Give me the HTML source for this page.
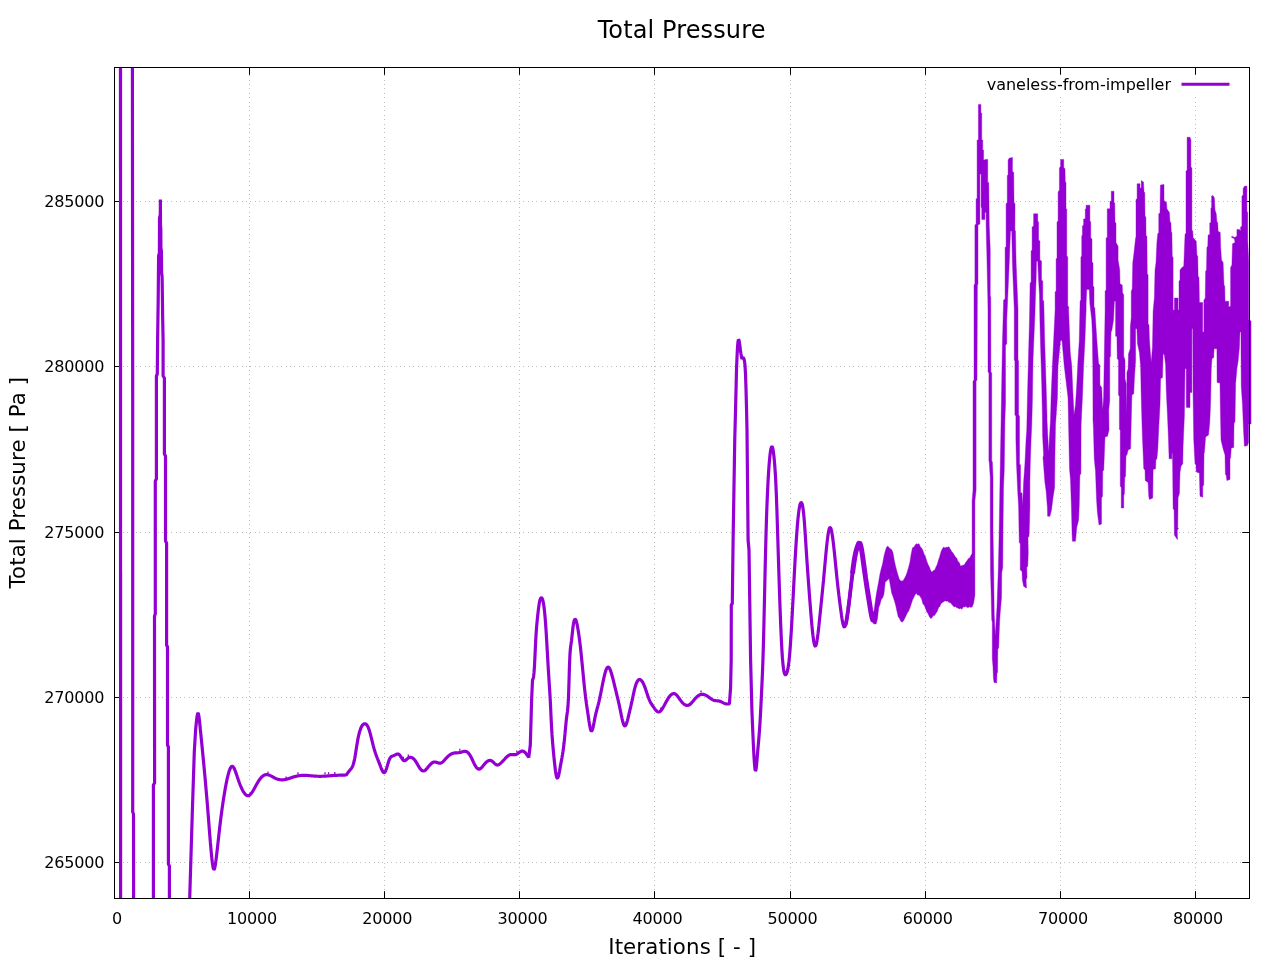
<!DOCTYPE html>
<html lang="en"><head><meta charset="utf-8"><title>Total Pressure</title>
<style>html,body{margin:0;padding:0;background:#fff;width:1280px;height:960px;overflow:hidden;}svg{display:block;will-change:transform;}text{font-family:"DejaVu Sans", "Liberation Sans", sans-serif;fill:#000;}</style></head><body>
<svg width="1280" height="960" viewBox="0 0 1280 960">
<rect x="0" y="0" width="1280" height="960" fill="#fff"/>
<path d="M249.5 899.0 V67.0 M384.5 899.0 V67.0 M519.5 899.0 V67.0 M654.5 899.0 V67.0 M790.5 899.0 V67.0 M925.5 899.0 V67.0 M1060.5 899.0 V67.0 M1195.5 899.0 V67.0 M114.0 862.5 H1250.0 M114.0 697.5 H1250.0 M114.0 532.5 H1250.0 M114.0 366.5 H1250.0 M114.0 201.5 H1250.0" stroke="#bebebe" stroke-width="1" stroke-dasharray="1 3 1 4 1 3 1 4 1 3" fill="none"/>
<rect x="981" y="73" width="259" height="22" fill="#fff"/>
<path d="M114.5 898.5 v-7.3 M114.5 67.5 v7.3 M249.5 898.5 v-7.3 M249.5 67.5 v7.3 M384.5 898.5 v-7.3 M384.5 67.5 v7.3 M519.5 898.5 v-7.3 M519.5 67.5 v7.3 M654.5 898.5 v-7.3 M654.5 67.5 v7.3 M790.5 898.5 v-7.3 M790.5 67.5 v7.3 M925.5 898.5 v-7.3 M925.5 67.5 v7.3 M1060.5 898.5 v-7.3 M1060.5 67.5 v7.3 M1195.5 898.5 v-7.3 M1195.5 67.5 v7.3 M114.5 862.5 h7.3 M1249.5 862.5 h-7.3 M114.5 697.5 h7.3 M1249.5 697.5 h-7.3 M114.5 532.5 h7.3 M1249.5 532.5 h-7.3 M114.5 366.5 h7.3 M1249.5 366.5 h-7.3 M114.5 201.5 h7.3 M1249.5 201.5 h-7.3" stroke="#000" stroke-width="1" fill="none"/>
<text x="117.0" y="924" font-size="16" letter-spacing="-0.18" text-anchor="middle">0</text>
<text x="252.1" y="924" font-size="16" letter-spacing="-0.18" text-anchor="middle">10000</text>
<text x="387.2" y="924" font-size="16" letter-spacing="-0.18" text-anchor="middle">20000</text>
<text x="522.4" y="924" font-size="16" letter-spacing="-0.18" text-anchor="middle">30000</text>
<text x="657.5" y="924" font-size="16" letter-spacing="-0.18" text-anchor="middle">40000</text>
<text x="792.6" y="924" font-size="16" letter-spacing="-0.18" text-anchor="middle">50000</text>
<text x="927.8" y="924" font-size="16" letter-spacing="-0.18" text-anchor="middle">60000</text>
<text x="1062.9" y="924" font-size="16" letter-spacing="-0.18" text-anchor="middle">70000</text>
<text x="1198.0" y="924" font-size="16" letter-spacing="-0.18" text-anchor="middle">80000</text>
<text x="104.2" y="868.0" font-size="16" letter-spacing="-0.18" text-anchor="end">265000</text>
<text x="104.2" y="702.8" font-size="16" letter-spacing="-0.18" text-anchor="end">270000</text>
<text x="104.2" y="537.5" font-size="16" letter-spacing="-0.18" text-anchor="end">275000</text>
<text x="104.2" y="372.2" font-size="16" letter-spacing="-0.18" text-anchor="end">280000</text>
<text x="104.2" y="207.0" font-size="16" letter-spacing="-0.18" text-anchor="end">285000</text>
<defs><clipPath id="c"><rect x="112.5" y="67.5" width="1139.0" height="831.0"/></clipPath></defs>
<g clip-path="url(#c)">
<path d="M120.50 60.00 L120.60 905.00" fill="none" stroke="#9400d3" stroke-width="3.2" stroke-linejoin="bevel" stroke-linecap="butt"/>
<path d="M132.40 60.00 L132.70 400.00 L132.70 812.00 L133.50 814.00 L133.60 905.00" fill="none" stroke="#9400d3" stroke-width="3.2" stroke-linejoin="bevel" stroke-linecap="butt"/>
<path d="M153.40 905.00 L153.40 785.00 L154.60 783.00 L154.50 616.00 L155.30 614.00 L155.30 481.00 L156.40 479.00 L156.40 376.00 L157.30 374.00 L157.60 340.00 L158.20 300.00 L158.60 256.00 L159.40 253.00 L159.50 218.00 L160.30 215.00 L160.40 199.50 L160.50 226.00 L160.80 229.00 L160.90 248.00 L161.40 251.00 L161.60 273.00 L162.10 277.00 L162.30 290.00 L162.70 320.00 L163.10 340.00 L163.10 376.00 L164.40 378.00 L164.40 454.00 L165.50 456.00 L165.50 541.00 L166.60 543.00 L166.60 645.00 L167.50 647.00 L167.50 745.00 L168.40 747.00 L168.40 864.00 L169.40 866.00 L169.40 905.00" fill="none" stroke="#9400d3" stroke-width="3.2" stroke-linejoin="bevel" stroke-linecap="butt"/>
<path d="M189.50 905.00 L192.30 812.50 L194.30 752.00 L195.60 730.00 L196.08 724.97 L196.56 720.34 L197.04 716.54 L197.52 713.95 L198.00 713.00 L198.48 713.95 L198.96 716.54 L199.44 720.34 L199.92 724.97 L200.40 730.00 L200.90 734.96 L201.40 739.94 L201.90 744.94 L202.40 749.98 L202.90 755.07 L203.40 760.23 L203.90 765.47 L204.40 770.78 L204.90 776.19 L205.39 781.71 L205.89 787.33 L206.39 793.08 L206.89 798.96 L207.39 804.98 L207.89 811.15 L208.39 817.47 L208.89 823.88 L209.39 830.29 L209.89 836.58 L210.39 842.67 L210.89 848.47 L211.39 853.86 L211.89 858.76 L212.39 862.97 L212.89 866.31 L213.39 868.55 L213.89 869.49 L214.39 869.00 L214.89 867.25 L215.38 864.49 L215.88 860.98 L216.38 856.98 L216.88 852.72 L217.38 848.33 L217.88 843.85 L218.38 839.33 L218.88 834.82 L219.38 830.37 L219.88 826.02 L220.38 821.83 L220.88 817.80 L221.38 813.92 L221.88 810.20 L222.38 806.62 L222.88 803.19 L223.38 799.88 L223.88 796.71 L224.38 793.65 L224.87 790.72 L225.37 787.89 L225.87 785.19 L226.37 782.61 L226.87 780.18 L227.37 777.90 L227.87 775.78 L228.37 773.84 L228.87 772.10 L229.37 770.55 L229.87 769.22 L230.37 768.11 L230.87 767.26 L231.37 766.66 L231.87 766.33 L232.37 766.29 L232.87 766.55 L233.37 767.08 L233.87 767.84 L234.37 768.82 L234.86 769.96 L235.36 771.24 L235.86 772.63 L236.36 774.09 L236.86 775.59 L237.36 777.09 L237.86 778.56 L238.36 780.00 L238.86 781.39 L239.36 782.74 L239.86 784.04 L240.36 785.29 L240.86 786.49 L241.36 787.63 L241.86 788.70 L242.36 789.72 L242.86 790.67 L243.36 791.55 L243.86 792.36 L244.35 793.09 L244.85 793.74 L245.35 794.31 L245.85 794.78 L246.35 795.17 L246.85 795.45 L247.35 795.64 L247.85 795.72 L248.35 795.69 L248.85 795.55 L249.35 795.29 L249.85 794.93 L250.35 794.48 L250.85 793.94 L251.35 793.32 L251.85 792.63 L252.35 791.88 L252.85 791.09 L253.35 790.25 L253.85 789.38 L254.34 788.48 L254.84 787.57 L255.34 786.65 L255.84 785.74 L256.34 784.83 L256.84 783.95 L257.34 783.09 L257.84 782.25 L258.34 781.45 L258.84 780.67 L259.34 779.93 L259.84 779.23 L260.34 778.57 L260.84 777.95 L261.34 777.38 L261.84 776.86 L262.34 776.39 L262.84 775.98 L263.34 775.63 L263.83 775.33 L264.33 775.08 L264.83 774.89 L265.33 774.74 L265.83 774.65 L266.33 774.60 L266.83 774.60 L267.33 774.64 L267.83 774.72 L268.33 774.84 L268.83 774.99 L269.33 775.17 L269.83 775.37 L270.33 775.60 L270.83 775.85 L271.33 776.11 L271.83 776.38 L272.33 776.66 L272.83 776.94 L273.32 777.22 L273.82 777.49 L274.32 777.76 L274.82 778.01 L275.32 778.25 L275.82 778.48 L276.32 778.68 L276.82 778.87 L277.32 779.04 L277.82 779.20 L278.32 779.34 L278.82 779.46 L279.32 779.56 L279.82 779.65 L280.32 779.72 L280.82 779.78 L281.32 779.81 L281.82 779.83 L282.32 779.84 L282.82 779.82 L283.31 779.79 L283.81 779.74 L284.31 779.68 L284.81 779.60 L285.31 779.50 L285.81 779.40 L286.31 779.28 L286.81 779.15 L287.31 779.01 L287.81 778.86 L288.31 778.71 L288.81 778.55 L289.31 778.38 L289.81 778.21 L290.31 778.04 L290.81 777.87 L291.31 777.70 L291.81 777.53 L292.31 777.36 L292.80 777.20 L293.30 777.04 L293.80 776.88 L294.30 776.74 L294.80 776.60 L295.30 776.47 L295.80 776.35 L296.30 776.23 L296.80 776.12 L297.30 776.02 L297.80 775.93 L298.30 775.84 L298.80 775.76 L299.30 775.69 L299.80 775.62 L300.30 775.57 L300.80 775.52 L301.30 775.47 L301.80 775.44 L302.30 775.41 L302.79 775.39 L303.29 775.37 L303.79 775.37 L304.29 775.37 L304.79 775.37 L305.29 775.38 L305.79 775.40 L306.29 775.42 L306.79 775.44 L307.29 775.47 L307.79 775.50 L308.29 775.54 L308.79 775.57 L309.29 775.61 L309.79 775.65 L310.29 775.70 L310.79 775.74 L311.29 775.79 L311.79 775.83 L312.28 775.88 L312.78 775.92 L313.28 775.97 L313.78 776.01 L314.28 776.05 L314.78 776.09 L315.28 776.13 L315.78 776.16 L316.28 776.19 L316.78 776.22 L317.28 776.24 L317.78 776.26 L318.28 776.27 L318.78 776.28 L319.28 776.29 L319.78 776.29 L320.28 776.29 L320.78 776.28 L321.28 776.28 L321.78 776.26 L322.27 776.25 L322.77 776.23 L323.27 776.21 L323.77 776.19 L324.27 776.16 L324.77 776.13 L325.27 776.11 L325.77 776.07 L326.27 776.04 L326.77 776.01 L327.27 775.97 L327.77 775.94 L328.27 775.90 L328.77 775.86 L329.27 775.82 L329.77 775.78 L330.27 775.74 L330.77 775.70 L331.27 775.67 L331.76 775.63 L332.26 775.59 L332.76 775.55 L333.26 775.52 L333.76 775.48 L334.26 775.45 L334.76 775.41 L335.26 775.38 L335.76 775.36 L336.26 775.33 L336.76 775.30 L337.26 775.28 L337.76 775.25 L338.26 775.23 L338.76 775.21 L339.26 775.19 L339.76 775.17 L340.26 775.16 L340.76 775.14 L341.26 775.13 L341.75 775.11 L342.25 775.10 L342.75 775.08 L343.25 775.07 L343.75 775.06 L344.25 775.05 L344.75 775.03 L345.25 775.02 L345.75 775.01 L346.25 775.00 L346.75 774.29 L347.25 773.58 L347.75 772.89 L348.25 772.21 L348.75 771.54 L349.25 770.90 L349.75 770.29 L350.25 769.71 L350.75 769.14 L351.25 768.52 L351.75 767.80 L352.25 766.92 L352.75 765.82 L353.25 764.46 L353.75 762.77 L354.25 760.70 L354.75 758.21 L355.25 755.35 L355.75 752.25 L356.25 749.03 L356.75 745.81 L357.25 742.71 L357.75 739.86 L358.25 737.31 L358.75 735.03 L359.25 733.02 L359.75 731.25 L360.25 729.71 L360.75 728.37 L361.25 727.22 L361.75 726.25 L362.25 725.45 L362.75 724.81 L363.25 724.33 L363.75 724.00 L364.25 723.81 L364.75 723.74 L365.25 723.81 L365.75 724.01 L366.25 724.37 L366.75 724.88 L367.25 725.56 L367.75 726.43 L368.25 727.49 L368.75 728.75 L369.25 730.22 L369.75 731.87 L370.25 733.66 L370.75 735.57 L371.25 737.56 L371.75 739.59 L372.25 741.63 L372.75 743.65 L373.25 745.62 L373.75 747.50 L374.25 749.26 L374.75 750.92 L375.25 752.47 L375.75 753.95 L376.25 755.35 L376.75 756.70 L377.25 758.01 L377.75 759.28 L378.25 760.54 L378.75 761.79 L379.25 763.06 L379.75 764.34 L380.25 765.67 L380.75 767.00 L381.25 768.31 L381.75 769.53 L382.25 770.63 L382.75 771.54 L383.25 772.21 L383.75 772.61 L384.25 772.67 L384.75 772.35 L385.25 771.62 L385.75 770.56 L386.25 769.22 L386.75 767.69 L387.25 766.04 L387.75 764.34 L388.25 762.68 L388.75 761.13 L389.25 759.76 L389.75 758.65 L390.25 757.79 L390.75 757.14 L391.25 756.67 L391.75 756.34 L392.25 756.10 L392.75 755.93 L393.25 755.77 L393.75 755.60 L394.25 755.38 L394.75 755.12 L395.25 754.85 L395.75 754.58 L396.25 754.34 L396.75 754.15 L397.25 754.02 L397.75 753.98 L398.25 754.05 L398.75 754.26 L399.25 754.61 L399.75 755.13 L400.25 755.80 L400.75 756.57 L401.25 757.39 L401.75 758.21 L402.25 758.99 L402.75 759.68 L403.25 760.23 L403.75 760.60 L404.25 760.75 L404.75 760.70 L405.25 760.50 L405.75 760.18 L406.25 759.76 L406.75 759.30 L407.25 758.83 L407.75 758.38 L408.25 757.99 L408.75 757.69 L409.25 757.46 L409.75 757.33 L410.25 757.27 L410.75 757.29 L411.25 757.39 L411.75 757.56 L412.25 757.81 L412.75 758.13 L413.25 758.52 L413.75 758.98 L414.25 759.50 L414.75 760.10 L415.25 760.75 L415.75 761.47 L416.25 762.25 L416.75 763.07 L417.25 763.91 L417.75 764.77 L418.25 765.62 L418.75 766.46 L419.25 767.27 L419.75 768.03 L420.25 768.73 L420.75 769.35 L421.25 769.90 L421.75 770.35 L422.25 770.69 L422.75 770.92 L423.25 771.01 L423.75 770.98 L424.25 770.82 L424.75 770.55 L425.25 770.19 L425.75 769.75 L426.25 769.25 L426.75 768.70 L427.25 768.11 L427.75 767.49 L428.25 766.87 L428.75 766.25 L429.25 765.65 L429.75 765.07 L430.25 764.53 L430.75 764.02 L431.25 763.55 L431.75 763.14 L432.25 762.78 L432.75 762.48 L433.25 762.25 L433.75 762.10 L434.25 762.02 L434.75 762.01 L435.25 762.06 L435.75 762.16 L436.25 762.29 L436.75 762.44 L437.25 762.60 L437.75 762.76 L438.25 762.91 L438.75 763.04 L439.25 763.13 L439.75 763.17 L440.25 763.15 L440.75 763.07 L441.25 762.90 L441.75 762.64 L442.25 762.30 L442.75 761.89 L443.25 761.43 L443.75 760.92 L444.25 760.37 L444.75 759.80 L445.25 759.23 L445.75 758.66 L446.25 758.10 L446.75 757.57 L447.25 757.06 L447.75 756.59 L448.25 756.14 L448.75 755.72 L449.25 755.33 L449.75 754.96 L450.25 754.63 L450.75 754.32 L451.25 754.04 L451.75 753.79 L452.25 753.58 L452.75 753.39 L453.25 753.23 L453.75 753.10 L454.25 753.00 L454.75 752.93 L455.25 752.88 L455.75 752.84 L456.25 752.81 L456.75 752.79 L457.25 752.78 L457.75 752.76 L458.25 752.73 L458.75 752.69 L459.25 752.63 L459.75 752.55 L460.25 752.44 L460.75 752.31 L461.25 752.16 L461.75 752.00 L462.25 751.85 L462.75 751.70 L463.25 751.56 L463.75 751.45 L464.25 751.37 L464.75 751.34 L465.25 751.35 L465.75 751.42 L466.25 751.56 L466.75 751.77 L467.25 752.07 L467.75 752.45 L468.25 752.93 L468.75 753.50 L469.25 754.15 L469.75 754.88 L470.25 755.68 L470.75 756.56 L471.25 757.50 L471.75 758.50 L472.25 759.54 L472.75 760.61 L473.25 761.69 L473.75 762.75 L474.25 763.78 L474.75 764.75 L475.25 765.66 L475.75 766.49 L476.25 767.21 L476.75 767.82 L477.25 768.33 L477.75 768.71 L478.25 768.98 L478.75 769.12 L479.25 769.12 L479.75 769.00 L480.25 768.75 L480.75 768.39 L481.25 767.94 L481.75 767.42 L482.25 766.85 L482.75 766.25 L483.25 765.62 L483.75 765.00 L484.25 764.39 L484.75 763.81 L485.25 763.25 L485.75 762.73 L486.25 762.25 L486.75 761.81 L487.25 761.42 L487.75 761.09 L488.25 760.81 L488.75 760.60 L489.25 760.46 L489.75 760.39 L490.25 760.40 L490.75 760.48 L491.25 760.65 L491.75 760.91 L492.25 761.25 L492.75 761.66 L493.25 762.13 L493.75 762.62 L494.25 763.12 L494.75 763.61 L495.25 764.06 L495.75 764.45 L496.25 764.76 L496.75 764.96 L497.25 765.04 L497.75 765.00 L498.25 764.85 L498.75 764.62 L499.25 764.31 L499.75 763.95 L500.25 763.54 L500.75 763.11 L501.25 762.65 L501.75 762.17 L502.25 761.67 L502.75 761.15 L503.25 760.63 L503.75 760.09 L504.25 759.56 L504.75 759.02 L505.25 758.48 L505.75 757.96 L506.25 757.45 L506.75 756.96 L507.25 756.50 L507.75 756.07 L508.25 755.69 L508.75 755.35 L509.25 755.06 L509.75 754.84 L510.25 754.68 L510.75 754.58 L511.25 754.54 L511.75 754.54 L512.25 754.56 L512.75 754.60 L513.25 754.65 L513.75 754.69 L514.25 754.72 L514.75 754.71 L515.25 754.66 L515.75 754.56 L516.25 754.40 L516.75 754.16 L517.25 753.87 L517.75 753.53 L518.25 753.16 L518.75 752.78 L519.25 752.41 L519.75 752.05 L520.25 751.73 L520.75 751.45 L521.25 751.25 L521.75 751.13 L522.25 751.09 L522.75 751.13 L523.25 751.26 L523.75 751.48 L524.25 751.79 L524.75 752.19 L525.25 752.67 L525.75 753.22 L526.25 753.84 L526.75 754.51 L527.25 755.22 L527.75 755.96 L528.25 756.73 L528.75 757.50 L530.30 745.00 L531.20 715.00 L531.60 700.00 L532.50 680.00 L533.00 679.04 L533.50 677.04 L534.00 672.96 L534.50 665.79 L535.00 655.52 L535.50 644.57 L536.00 635.34 L536.50 628.18 L537.00 622.45 L537.50 617.52 L538.00 612.91 L538.50 608.65 L539.00 604.95 L539.50 602.00 L540.00 599.91 L540.50 598.58 L541.00 597.92 L541.50 597.81 L542.00 598.22 L542.49 599.24 L542.99 600.95 L543.49 603.42 L543.99 606.73 L544.49 610.94 L544.99 616.12 L545.49 622.30 L545.99 629.51 L546.49 637.54 L546.99 646.10 L547.49 654.87 L547.99 663.56 L548.49 671.97 L548.99 679.87 L549.49 687.31 L549.99 695.27 L550.49 704.91 L550.99 715.80 L551.49 725.86 L551.99 734.16 L552.49 741.06 L552.99 746.99 L553.49 752.39 L553.99 757.58 L554.49 762.53 L554.99 767.06 L555.49 771.02 L555.99 774.26 L556.49 776.63 L556.99 777.95 L557.49 778.17 L557.99 777.43 L558.49 775.92 L558.99 773.80 L559.49 771.27 L559.99 768.49 L560.49 765.64 L560.99 762.89 L561.49 760.20 L561.99 757.47 L562.48 754.57 L562.98 751.41 L563.48 747.87 L563.98 743.82 L564.48 739.17 L564.98 733.93 L565.48 728.45 L565.98 723.11 L566.48 718.31 L566.98 714.44 L567.48 711.14 L567.98 706.25 L568.48 697.32 L568.98 682.13 L569.48 665.07 L569.98 654.00 L570.48 647.88 L570.98 644.27 L571.48 640.76 L571.98 636.35 L572.48 631.61 L572.98 627.20 L573.48 623.69 L573.98 621.25 L574.48 619.77 L574.98 619.18 L575.48 619.39 L575.98 620.30 L576.48 621.83 L576.98 623.89 L577.48 626.39 L577.98 629.25 L578.48 632.38 L578.98 635.77 L579.48 639.43 L579.98 643.39 L580.48 647.64 L580.98 652.21 L581.48 657.05 L581.97 662.09 L582.47 667.24 L582.97 672.44 L583.47 677.62 L583.97 682.68 L584.47 687.56 L584.97 692.17 L585.47 696.43 L585.97 700.34 L586.47 703.98 L586.97 707.43 L587.47 710.78 L587.97 714.13 L588.47 717.55 L588.97 720.93 L589.47 724.11 L589.97 726.90 L590.47 729.12 L590.97 730.58 L591.47 731.11 L591.97 730.69 L592.47 729.48 L592.97 727.66 L593.47 725.39 L593.97 722.85 L594.47 720.22 L594.97 717.66 L595.47 715.31 L595.97 713.17 L596.47 711.18 L596.97 709.29 L597.47 707.44 L597.97 705.58 L598.47 703.65 L598.97 701.59 L599.47 699.40 L599.97 697.09 L600.47 694.69 L600.97 692.22 L601.46 689.71 L601.96 687.19 L602.46 684.67 L602.96 682.20 L603.46 679.80 L603.96 677.52 L604.46 675.38 L604.96 673.42 L605.46 671.68 L605.96 670.20 L606.46 668.99 L606.96 668.06 L607.46 667.45 L607.96 667.15 L608.46 667.18 L608.96 667.56 L609.46 668.26 L609.96 669.23 L610.46 670.46 L610.96 671.88 L611.46 673.48 L611.96 675.21 L612.46 677.05 L612.96 678.96 L613.46 680.94 L613.96 682.97 L614.46 685.02 L614.96 687.09 L615.46 689.15 L615.96 691.20 L616.46 693.25 L616.96 695.30 L617.46 697.38 L617.96 699.50 L618.46 701.66 L618.96 703.88 L619.46 706.16 L619.96 708.53 L620.46 710.99 L620.96 713.47 L621.45 715.92 L621.95 718.25 L622.45 720.41 L622.95 722.31 L623.45 723.90 L623.95 725.09 L624.45 725.81 L624.95 726.01 L625.45 725.67 L625.95 724.86 L626.45 723.64 L626.95 722.10 L627.45 720.31 L627.95 718.34 L628.45 716.26 L628.95 714.15 L629.45 712.04 L629.95 709.92 L630.45 707.79 L630.95 705.62 L631.45 703.41 L631.95 701.16 L632.45 698.83 L632.95 696.47 L633.45 694.12 L633.95 691.84 L634.45 689.68 L634.95 687.69 L635.45 685.94 L635.95 684.41 L636.45 683.10 L636.95 682.01 L637.45 681.13 L637.95 680.45 L638.45 679.95 L638.95 679.64 L639.45 679.51 L639.95 679.54 L640.45 679.72 L640.94 680.06 L641.44 680.54 L641.94 681.16 L642.44 681.91 L642.94 682.78 L643.44 683.76 L643.94 684.86 L644.44 686.06 L644.94 687.35 L645.44 688.72 L645.94 690.17 L646.44 691.65 L646.94 693.16 L647.44 694.65 L647.94 696.12 L648.44 697.53 L648.94 698.86 L649.44 700.10 L649.94 701.21 L650.44 702.21 L650.94 703.13 L651.44 703.97 L651.94 704.75 L652.44 705.49 L652.94 706.21 L653.44 706.91 L653.94 707.62 L654.44 708.33 L654.94 709.01 L655.44 709.67 L655.94 710.27 L656.44 710.80 L656.94 711.26 L657.44 711.62 L657.94 711.87 L658.44 711.99 L658.94 711.98 L659.44 711.81 L659.94 711.52 L660.44 711.10 L660.93 710.58 L661.43 709.96 L661.93 709.26 L662.43 708.50 L662.93 707.68 L663.43 706.81 L663.93 705.92 L664.43 705.01 L664.93 704.09 L665.43 703.16 L665.93 702.24 L666.43 701.33 L666.93 700.45 L667.43 699.59 L667.93 698.76 L668.43 697.97 L668.93 697.24 L669.43 696.56 L669.93 695.94 L670.43 695.39 L670.93 694.90 L671.43 694.48 L671.93 694.14 L672.43 693.88 L672.93 693.70 L673.43 693.60 L673.93 693.59 L674.43 693.68 L674.93 693.87 L675.43 694.15 L675.93 694.52 L676.43 694.98 L676.93 695.50 L677.43 696.08 L677.93 696.71 L678.43 697.37 L678.93 698.06 L679.43 698.76 L679.93 699.46 L680.42 700.16 L680.92 700.83 L681.42 701.47 L681.92 702.07 L682.42 702.63 L682.92 703.14 L683.42 703.61 L683.92 704.03 L684.42 704.39 L684.92 704.71 L685.42 704.96 L685.92 705.16 L686.42 705.30 L686.92 705.38 L687.42 705.39 L687.92 705.33 L688.42 705.21 L688.92 705.01 L689.42 704.74 L689.92 704.39 L690.42 703.98 L690.92 703.51 L691.42 703.00 L691.92 702.44 L692.42 701.86 L692.92 701.26 L693.42 700.65 L693.92 700.03 L694.42 699.43 L694.92 698.84 L695.42 698.29 L695.92 697.76 L696.42 697.26 L696.92 696.80 L697.42 696.37 L697.92 695.98 L698.42 695.63 L698.92 695.31 L699.42 695.04 L699.91 694.80 L700.41 694.62 L700.91 694.47 L701.41 694.37 L701.91 694.32 L702.41 694.31 L702.91 694.35 L703.41 694.42 L703.91 694.53 L704.41 694.68 L704.91 694.86 L705.41 695.07 L705.91 695.32 L706.41 695.58 L706.91 695.88 L707.41 696.19 L707.91 696.53 L708.41 696.88 L708.91 697.24 L709.41 697.61 L709.91 697.97 L710.41 698.34 L710.91 698.69 L711.41 699.02 L711.91 699.34 L712.41 699.63 L712.91 699.89 L713.41 700.12 L713.91 700.30 L714.41 700.45 L714.91 700.55 L715.41 700.63 L715.91 700.69 L716.41 700.74 L716.91 700.77 L717.41 700.81 L717.91 700.85 L718.41 700.91 L718.91 700.98 L719.41 701.08 L719.90 701.22 L720.40 701.40 L720.90 701.61 L721.40 701.84 L721.90 702.10 L722.40 702.37 L722.90 702.64 L723.40 702.90 L723.90 703.15 L724.40 703.37 L724.90 703.57 L725.40 703.72 L725.90 703.84 L726.40 703.92 L726.90 703.98 L727.40 704.01 L727.90 704.02 L728.40 704.02 L728.90 704.01 L729.40 704.00 L730.60 687.50 L731.20 660.00 L731.30 605.00 L732.30 603.50 L733.10 540.00 L734.75 440.00 L735.60 407.50 L736.50 370.00 L736.99 357.77 L737.48 347.80 L737.97 341.88 L738.46 339.66 L738.95 340.20 L739.45 342.61 L739.94 346.12 L740.43 349.96 L740.92 353.42 L741.41 356.34 L741.90 359.00 L742.41 358.25 L742.92 357.78 L743.43 357.88 L743.94 358.82 L744.46 360.89 L744.97 364.91 L745.48 373.30 L745.99 388.22 L746.50 407.50 L747.00 430.00 L748.10 540.00 L749.00 550.00 L750.60 660.00 L751.90 710.00 L752.40 722.44 L752.90 734.41 L753.40 745.47 L753.90 755.13 L754.40 762.92 L754.90 768.34 L755.40 770.89 L755.90 770.14 L756.40 766.51 L756.90 761.07 L757.40 754.92 L757.90 749.01 L758.41 743.35 L758.91 737.57 L759.41 731.24 L759.91 723.99 L760.41 715.48 L760.91 705.86 L761.41 695.52 L761.91 684.83 L762.41 673.76 L762.91 660.82 L763.41 644.29 L763.91 624.27 L764.41 602.19 L764.91 579.52 L765.41 557.71 L765.91 538.17 L766.41 521.30 L766.91 506.84 L767.41 494.47 L767.91 483.91 L768.41 474.94 L768.91 467.39 L769.41 461.09 L769.91 455.88 L770.41 451.78 L770.92 448.83 L771.42 447.06 L771.92 446.50 L772.42 447.19 L772.92 449.08 L773.42 452.12 L773.92 456.26 L774.42 461.46 L774.92 467.74 L775.42 475.44 L775.92 484.99 L776.42 496.77 L776.92 510.76 L777.42 526.23 L777.92 542.43 L778.42 558.63 L778.92 574.49 L779.42 589.79 L779.92 604.31 L780.42 617.85 L780.92 630.19 L781.42 641.11 L781.92 650.41 L782.42 657.95 L782.93 663.84 L783.43 668.27 L783.93 671.41 L784.43 673.43 L784.93 674.51 L785.43 674.84 L785.93 674.58 L786.43 673.88 L786.93 672.72 L787.43 671.01 L787.93 668.66 L788.43 665.58 L788.93 661.67 L789.43 656.86 L789.93 651.05 L790.43 644.29 L790.93 636.73 L791.43 628.48 L791.93 619.70 L792.43 610.50 L792.93 601.02 L793.43 591.40 L793.93 581.76 L794.43 572.25 L794.93 563.00 L795.44 554.14 L795.94 545.80 L796.44 538.08 L796.94 531.04 L797.44 524.72 L797.94 519.14 L798.44 514.36 L798.94 510.39 L799.44 507.22 L799.94 504.86 L800.44 503.30 L800.94 502.54 L801.44 502.58 L801.94 503.48 L802.44 505.29 L802.94 508.08 L803.44 511.91 L803.94 516.85 L804.44 522.92 L804.94 529.88 L805.44 537.42 L805.94 545.23 L806.44 552.99 L806.94 560.52 L807.44 567.83 L807.95 574.95 L808.45 581.89 L808.95 588.66 L809.45 595.30 L809.95 601.82 L810.45 608.22 L810.95 614.43 L811.45 620.36 L811.95 625.92 L812.45 631.01 L812.95 635.52 L813.45 639.37 L813.95 642.46 L814.45 644.70 L814.95 645.98 L815.45 646.21 L815.95 645.40 L816.45 643.65 L816.95 641.09 L817.45 637.84 L817.95 634.02 L818.45 629.74 L818.95 625.14 L819.45 620.33 L819.96 615.44 L820.46 610.56 L820.96 605.71 L821.46 600.84 L821.96 595.93 L822.46 590.94 L822.96 585.85 L823.46 580.63 L823.96 575.23 L824.46 569.71 L824.96 564.13 L825.46 558.62 L825.96 553.26 L826.46 548.15 L826.96 543.40 L827.46 539.10 L827.96 535.35 L828.46 532.24 L828.96 529.85 L829.46 528.25 L829.96 527.52 L830.46 527.71 L830.96 528.78 L831.46 530.64 L831.96 533.18 L832.47 536.34 L832.97 540.01 L833.47 544.11 L833.97 548.56 L834.47 553.28 L834.97 558.20 L835.47 563.22 L835.97 568.28 L836.47 573.28 L836.97 578.16 L837.47 582.85 L837.97 587.36 L838.47 591.70 L838.97 595.90 L839.47 599.97 L839.97 603.92 L840.47 607.78 L840.97 611.54 L841.47 615.14 L841.97 618.47 L842.47 621.41 L842.97 623.85 L843.47 625.68 L843.97 626.77 L844.47 627.04 L844.98 626.46 L845.48 625.14 L845.98 623.17 L846.48 620.64 L846.98 617.66 L847.48 614.31 L847.98 610.69 L848.48 606.87 L848.98 602.89 L849.48 598.79 L849.98 594.59 L850.48 590.33 L850.98 586.05 L851.48 581.79 L851.98 577.58 L852.48 573.47 L852.98 569.50 L853.48 565.74 L853.98 562.23 L854.48 559.00 L854.98 556.13 L855.48 553.64 L855.98 551.51 L856.48 549.68 L856.99 548.05 L857.49 546.54 L857.99 545.13 L858.49 543.93 L858.99 543.14 L859.49 542.92 L859.99 543.46 L860.49 544.79 L860.99 546.80 L861.49 549.37 L861.99 552.37 L862.49 555.69 L862.99 559.21 L863.49 562.81 L863.99 566.45 L864.49 570.08 L864.99 573.69 L865.49 577.26 L865.99 580.74 L866.49 584.13 L866.99 587.41 L867.49 590.61 L867.99 593.76 L868.49 596.87 L868.99 599.97 L869.50 603.10 L870.00 606.23 L870.50 609.31 L871.00 612.25 L871.50 614.98 L872.00 617.40 L872.50 619.27 L873.00 620.36 L873.50 620.42 L874.00 619.34 L874.50 617.39 L875.00 614.84 L875.50 612.00" fill="none" stroke="#9400d3" stroke-width="3.2" stroke-linejoin="bevel" stroke-linecap="butt"/>
<path d="M268.0 773.4 v-2 M286.0 778.4 v-2 M298.0 774.3 v-2 M325.0 774.3 v-2 M328.6 774.2 v-2 M334.8 773.9 v-2 M403.4 758.8 v-2 M408.3 756.4 v-2 M459.8 750.8 v-2 M516.8 752.6 v-2 M701.0 692.6 v-2 M660.8 709.5 v-2" fill="none" stroke="#9400d3" stroke-width="1.3"/>
<path d="M845.48 625.14 L845.98 623.17 L846.48 620.64 L846.98 617.66 L847.48 614.31 L847.98 610.69 L848.48 606.87 L848.98 602.89 L849.48 598.79 L849.98 594.59 L850.48 590.33 L850.98 586.05 L851.48 581.79 L851.98 577.58 L852.48 573.47 L852.98 569.50" fill="none" stroke="#9400d3" stroke-width="3.8" stroke-linejoin="bevel" stroke-linecap="butt"/>
<path d="M852.48 573.47 L852.98 569.50 L853.48 565.74 L853.98 562.23 L854.48 559.00 L854.98 556.13 L855.48 553.64 L855.98 551.51 L856.48 549.68 L856.99 548.05 L857.49 546.54 L857.99 545.13 L858.49 543.93 L858.99 543.14 L859.49 542.92 L859.99 543.46 L860.49 544.79 L860.99 546.80 L861.49 549.37 L861.99 552.37 L862.49 555.69 L862.99 559.21 L863.49 562.81 L863.99 566.45 L864.49 570.08 L864.99 573.69 L865.49 577.26 L865.99 580.74 L866.49 584.13 L866.99 587.41 L867.49 590.61 L867.99 593.76 L868.49 596.87 L868.99 599.97 L869.50 603.10 L870.00 606.23 L870.50 609.31 L871.00 612.25 L871.50 614.98 L872.00 617.40 L872.50 619.27 L873.00 620.36 L873.50 620.42 L874.00 619.34 L874.50 617.39 L875.00 614.84 L875.50 612.00" fill="none" stroke="#9400d3" stroke-width="5" stroke-linejoin="bevel" stroke-linecap="butt"/>
<path d="M873.50 614.22 L874.80 605.15 L876.10 595.80 L877.40 588.36 L878.70 581.51 L880.00 573.77 L881.30 568.46 L882.60 563.78 L883.90 556.60 L885.20 551.20 L886.50 547.17 L887.80 546.06 L889.10 547.63 L890.40 548.72 L891.70 549.81 L893.00 552.74 L894.30 560.58 L895.60 566.35 L896.90 571.29 L898.20 575.65 L899.50 579.79 L900.80 580.71 L902.10 581.13 L903.40 580.17 L904.70 578.08 L906.00 575.48 L907.30 571.81 L908.60 567.30 L909.90 562.21 L911.20 553.92 L912.50 547.65 L913.80 547.26 L915.10 545.17 L916.40 543.68 L917.70 544.17 L919.00 543.64 L920.30 546.63 L921.60 548.07 L922.90 550.43 L924.20 554.31 L925.50 556.99 L926.80 561.23 L928.10 564.56 L929.40 567.05 L930.70 570.59 L932.00 572.35 L933.30 570.44 L934.60 570.32 L935.90 567.15 L937.20 564.45 L938.50 559.94 L939.80 556.27 L941.10 551.47 L942.40 548.69 L943.70 547.05 L945.00 548.01 L946.30 547.22 L947.60 547.31 L948.90 546.66 L950.20 548.90 L951.50 551.35 L952.80 552.64 L954.10 554.86 L955.40 556.97 L956.70 557.99 L958.00 561.41 L959.30 562.51 L960.60 566.27 L961.90 565.44 L963.20 565.25 L964.50 564.42 L965.80 562.15 L967.10 560.56 L968.40 558.60 L969.70 558.03 L971.00 555.34 L971.90 553.75 L972.10 553.00 L972.10 501.00 L973.00 490.00 L973.00 381.00 L974.00 380.00 L974.00 285.00 L974.90 284.00 L974.90 225.00 L976.10 224.00 L976.10 198.75 L977.10 198.75 L977.10 140.00 L978.40 140.00 L978.40 104.40 L980.90 104.40 L980.90 113.00 L981.75 113.00 L981.75 140.00 L982.75 140.00 L982.75 150.00 L983.60 150.00 L983.60 160.00 L984.90 160.00 L984.90 159.40 L987.75 159.40 L987.75 182.50 L988.75 182.50 L989.25 225.00 L990.25 250.00 L990.25 296.00 L990.75 297.00 L990.90 372.00 L991.75 373.00 L991.75 461.00 L992.40 462.00 L993.00 477.50 L993.00 530.00 L993.60 567.50 L994.25 615.00 L995.25 636.00 L997.00 607.00 L998.30 570.00 L999.00 540.00 L999.90 487.00 L1001.10 420.00 L1002.40 345.00 L1003.60 300.00 L1005.10 299.00 L1005.10 247.50 L1006.10 246.50 L1006.10 203.75 L1007.25 202.50 L1007.25 175.60 L1008.10 175.00 L1008.10 160.00 L1009.40 158.00 L1012.50 157.50 L1012.40 171.25 L1013.75 172.50 L1014.00 202.50 L1015.00 203.75 L1014.90 230.00 L1015.50 231.00 L1016.10 262.50 L1018.00 309.00 L1018.00 360.00 L1018.60 361.00 L1018.60 415.00 L1019.50 416.00 L1019.50 464.00 L1020.50 465.00 L1020.50 492.50 L1022.00 493.00 L1022.60 506.25 L1023.60 482.50 L1024.90 464.00 L1026.10 439.00 L1026.75 430.00 L1027.40 400.00 L1028.40 360.00 L1029.50 320.00 L1030.10 283.00 L1031.10 282.00 L1031.10 251.00 L1032.10 250.00 L1032.10 227.00 L1033.60 226.00 L1033.60 213.75 L1037.75 213.75 L1037.75 221.25 L1038.60 222.00 L1038.60 240.00 L1039.90 241.00 L1039.90 260.00 L1041.50 261.00 L1041.50 280.00 L1042.75 281.00 L1042.75 300.00 L1043.75 301.00 L1044.00 310.00 L1044.50 335.00 L1046.10 385.00 L1047.00 416.00 L1047.00 420.00 L1048.60 452.50 L1050.50 420.00 L1051.10 397.50 L1052.40 366.00 L1055.10 310.00 L1055.10 292.00 L1056.10 291.00 L1056.10 259.00 L1057.00 258.00 L1057.00 222.00 L1058.10 221.00 L1058.10 192.00 L1059.40 190.00 L1059.40 168.00 L1060.60 166.25 L1060.60 159.40 L1063.75 159.40 L1063.75 167.50 L1065.00 168.75 L1065.25 182.00 L1066.00 182.50 L1066.00 208.75 L1066.75 209.00 L1066.75 256.00 L1067.75 257.00 L1067.75 306.00 L1068.75 307.00 L1068.60 310.00 L1070.25 352.50 L1071.75 366.00 L1072.75 390.00 L1074.00 415.00 L1075.50 405.00 L1076.75 385.00 L1078.00 360.00 L1079.25 341.00 L1079.90 310.00 L1080.10 301.00 L1080.90 300.00 L1080.90 257.00 L1081.75 256.00 L1081.75 236.00 L1082.40 235.00 L1082.40 226.00 L1083.60 225.00 L1083.60 219.00 L1085.25 218.75 L1085.25 209.00 L1086.10 208.75 L1086.10 205.25 L1089.90 205.25 L1089.90 221.00 L1090.75 222.00 L1090.75 238.00 L1092.00 239.00 L1092.00 262.00 L1093.00 263.00 L1093.00 286.00 L1094.00 287.00 L1094.00 307.00 L1094.90 308.00 L1094.90 310.00 L1096.75 338.75 L1098.60 363.75 L1099.90 365.00 L1099.90 385.00 L1101.75 387.50 L1102.40 405.00 L1102.75 410.00 L1103.60 397.50 L1104.25 360.00 L1105.10 310.00 L1105.10 291.00 L1106.10 290.00 L1106.10 238.00 L1107.25 237.50 L1107.25 208.75 L1110.00 208.75 L1110.00 201.25 L1111.25 201.25 L1111.25 191.25 L1114.00 191.25 L1114.00 202.50 L1114.75 203.00 L1115.00 222.50 L1116.00 223.00 L1116.00 242.50 L1118.10 246.25 L1118.10 260.00 L1119.75 270.00 L1120.00 283.75 L1122.25 285.00 L1122.50 292.50 L1123.75 295.00 L1123.75 356.25 L1125.00 360.00 L1125.00 378.75 L1126.25 383.75 L1126.25 415.00 L1126.90 392.50 L1126.90 372.50 L1128.10 368.75 L1128.50 353.75 L1130.20 348.75 L1130.40 326.25 L1131.25 317.50 L1131.25 291.25 L1132.25 288.75 L1132.75 262.50 L1133.75 255.00 L1135.60 238.00 L1136.00 237.00 L1136.00 199.40 L1137.10 198.75 L1137.10 183.75 L1140.00 183.75 L1140.00 188.00 L1141.25 188.00 L1141.25 180.60 L1143.50 182.00 L1144.00 192.00 L1144.75 192.50 L1145.00 216.25 L1145.90 217.00 L1146.00 235.60 L1146.90 236.25 L1147.25 273.75 L1148.10 275.00 L1148.10 323.75 L1149.00 325.00 L1149.40 338.75 L1150.30 352.00 L1151.25 362.50 L1152.50 346.25 L1153.10 311.25 L1154.40 297.50 L1155.00 270.00 L1156.00 262.50 L1156.90 242.50 L1157.75 233.75 L1158.75 232.50 L1158.75 213.75 L1160.00 213.00 L1160.40 185.00 L1164.00 184.40 L1164.00 200.60 L1166.50 202.50 L1166.90 208.75 L1169.40 212.50 L1170.00 221.90 L1170.90 222.50 L1171.25 231.90 L1171.90 232.50 L1172.25 256.25 L1173.10 257.50 L1173.10 310.00 L1174.40 310.00 L1174.40 298.00 L1178.10 298.00 L1178.10 310.00 L1179.00 310.00 L1179.00 281.25 L1180.00 280.00 L1180.00 270.00 L1181.90 267.50 L1183.75 266.25 L1185.00 235.00 L1185.00 234.40 L1186.00 233.00 L1186.00 171.25 L1187.10 170.00 L1187.10 137.25 L1190.00 137.25 L1190.90 140.00 L1190.90 166.90 L1191.90 168.00 L1191.90 230.00 L1192.75 231.25 L1193.10 237.50 L1196.25 241.25 L1196.90 255.00 L1197.75 256.25 L1198.10 276.25 L1199.00 277.50 L1199.40 302.50 L1202.70 302.50 L1202.70 332.00 L1203.90 332.00 L1203.90 300.00 L1204.40 299.40 L1205.25 298.00 L1205.60 271.25 L1206.50 270.00 L1206.90 247.50 L1207.75 246.25 L1208.10 235.00 L1209.75 234.40 L1209.75 223.00 L1210.90 222.50 L1210.90 208.00 L1211.60 207.50 L1211.60 196.00 L1213.00 195.60 L1214.40 198.00 L1215.00 210.00 L1216.25 213.75 L1216.90 222.00 L1217.75 222.50 L1218.10 231.25 L1220.25 232.50 L1220.60 246.25 L1221.50 260.00 L1223.10 262.50 L1224.00 285.00 L1224.75 286.25 L1225.00 301.25 L1228.75 301.25 L1228.75 307.00 L1230.60 306.25 L1230.60 267.50 L1231.90 265.00 L1232.50 243.75 L1235.00 242.50 L1234.40 238.75 L1231.90 237.50 L1231.25 236.90 L1232.50 236.25 L1234.40 237.50 L1236.90 236.25 L1236.90 229.40 L1239.40 229.40 L1240.60 231.25 L1240.60 226.90 L1241.90 226.25 L1241.90 196.25 L1243.10 195.00 L1243.10 188.75 L1244.40 186.25 L1246.90 186.00 L1246.90 211.25 L1247.75 212.50 L1247.75 240.00 L1248.75 262.50 L1248.75 320.00 L1251.25 321.00 L1251.25 424.00 L1251.25 424.00 L1248.75 424.00 L1248.50 442.50 L1247.50 445.60 L1244.40 446.25 L1243.50 430.00 L1242.50 405.00 L1241.25 386.25 L1241.00 352.50 L1241.00 331.90 L1240.00 331.90 L1239.40 347.50 L1238.10 361.25 L1236.90 368.75 L1235.60 383.75 L1235.00 421.25 L1234.00 423.75 L1233.75 447.50 L1231.25 448.00 L1230.60 458.00 L1230.00 458.75 L1230.00 479.40 L1226.90 480.60 L1226.25 475.60 L1225.40 474.40 L1225.00 455.00 L1223.10 448.75 L1221.00 440.00 L1220.25 402.50 L1220.00 383.00 L1217.10 382.50 L1216.90 348.75 L1214.00 348.75 L1213.75 357.50 L1211.90 358.75 L1211.25 370.00 L1210.60 402.50 L1209.75 422.50 L1208.50 435.00 L1205.60 436.90 L1204.40 452.50 L1204.00 453.75 L1203.75 485.00 L1202.75 486.25 L1202.75 497.25 L1200.00 496.25 L1199.40 473.10 L1196.25 471.90 L1196.00 465.00 L1195.00 463.75 L1193.75 440.00 L1193.10 396.25 L1192.75 328.75 L1191.90 328.75 L1191.90 392.50 L1190.00 392.50 L1190.00 407.50 L1186.50 407.50 L1186.25 405.00 L1186.25 368.75 L1185.00 368.75 L1184.40 415.00 L1183.10 446.25 L1182.75 463.75 L1181.00 466.25 L1180.00 472.50 L1179.40 493.75 L1178.10 497.50 L1177.75 527.50 L1178.50 528.75 L1177.25 530.00 L1177.50 539.40 L1177.25 539.40 L1174.40 535.00 L1174.10 510.00 L1173.10 508.75 L1172.50 453.75 L1171.90 453.00 L1171.90 458.75 L1169.10 458.75 L1168.50 440.00 L1167.50 416.25 L1166.25 390.00 L1165.60 365.00 L1164.40 355.00 L1163.10 353.75 L1162.50 377.50 L1160.60 378.75 L1160.00 405.00 L1158.75 427.50 L1157.75 450.00 L1156.90 458.75 L1155.90 460.00 L1155.60 468.75 L1153.10 469.40 L1152.75 498.00 L1149.40 499.40 L1148.75 496.25 L1148.10 482.50 L1145.25 480.60 L1145.00 470.00 L1143.75 468.75 L1143.10 452.50 L1142.25 432.50 L1141.25 397.50 L1140.60 366.25 L1139.40 352.50 L1137.50 343.75 L1136.90 328.75 L1135.60 328.75 L1135.60 360.00 L1134.40 378.75 L1133.75 393.75 L1131.90 395.00 L1131.25 420.00 L1130.60 448.75 L1128.10 450.00 L1126.90 455.00 L1126.00 455.60 L1125.60 476.25 L1124.75 477.50 L1124.40 493.75 L1123.75 495.60 L1123.75 508.00 L1121.25 508.00 L1121.25 487.50 L1120.25 486.25 L1120.25 430.00 L1119.40 429.40 L1119.40 396.25 L1118.50 395.00 L1118.50 360.00 L1117.25 358.75 L1116.90 336.25 L1115.60 336.25 L1115.60 301.25 L1114.40 301.25 L1113.50 320.00 L1111.90 330.00 L1111.00 332.50 L1110.60 350.00 L1110.60 356.25 L1109.75 357.50 L1109.75 400.00 L1108.75 410.00 L1109.00 430.00 L1107.50 436.25 L1105.00 436.90 L1104.40 452.50 L1103.75 470.00 L1102.75 471.25 L1102.50 496.25 L1101.50 498.00 L1101.50 524.00 L1099.00 525.00 L1097.40 512.50 L1096.50 498.75 L1095.50 471.25 L1094.25 458.75 L1093.40 427.50 L1093.00 420.00 L1092.80 366.00 L1092.40 335.00 L1091.75 320.00 L1089.90 303.75 L1089.25 289.40 L1086.75 289.40 L1086.10 303.75 L1086.10 310.00 L1084.90 341.00 L1083.60 366.00 L1082.40 397.50 L1081.10 425.00 L1080.90 473.75 L1079.90 475.00 L1079.25 505.00 L1078.60 520.00 L1076.75 527.50 L1076.10 535.00 L1075.50 541.25 L1072.40 541.25 L1072.10 535.00 L1071.50 510.00 L1070.50 480.00 L1069.50 468.75 L1068.60 425.00 L1068.00 397.50 L1064.25 366.00 L1062.00 340.60 L1060.50 340.60 L1058.00 366.00 L1057.40 397.50 L1055.50 425.00 L1054.90 457.50 L1054.60 487.50 L1053.00 497.50 L1051.50 510.00 L1049.90 516.25 L1047.60 516.25 L1047.40 507.50 L1046.10 491.00 L1044.90 482.50 L1043.00 457.50 L1043.60 455.00 L1042.60 436.00 L1042.40 416.00 L1041.75 385.00 L1040.25 335.00 L1039.90 320.00 L1039.50 295.00 L1038.60 280.00 L1037.75 261.25 L1036.50 261.25 L1036.10 280.00 L1035.50 295.00 L1034.90 315.00 L1033.00 360.00 L1032.40 400.00 L1031.75 425.00 L1031.10 439.00 L1030.25 464.00 L1029.90 482.50 L1029.90 507.00 L1029.25 530.00 L1029.00 536.25 L1028.00 537.50 L1028.25 552.50 L1027.75 566.25 L1026.75 567.50 L1027.00 577.50 L1026.10 580.00 L1026.50 588.00 L1026.10 588.00 L1023.60 586.25 L1022.40 580.00 L1022.00 571.25 L1020.25 570.00 L1020.25 543.75 L1019.25 542.50 L1019.00 530.00 L1018.60 506.00 L1017.75 492.50 L1016.50 464.00 L1015.90 440.00 L1015.90 416.00 L1014.90 415.00 L1014.90 361.00 L1014.25 360.00 L1014.25 309.00 L1012.40 262.50 L1011.75 231.00 L1010.50 231.00 L1009.25 262.50 L1006.75 320.00 L1006.75 344.00 L1005.50 345.00 L1005.50 404.00 L1004.90 420.00 L1004.25 470.00 L1003.50 487.50 L1003.00 530.00 L1002.75 567.50 L1001.75 572.50 L1001.50 597.50 L1000.25 612.50 L999.70 620.00 L999.00 637.00 L998.70 648.00 L997.80 649.00 L997.60 672.50 L997.00 673.00 L996.60 683.00 L994.00 682.50 L993.40 677.50 L993.00 667.00 L992.30 658.00 L992.30 622.00 L991.75 620.00 L991.10 592.00 L990.50 571.00 L990.25 530.00 L990.25 477.50 L989.25 462.00 L988.90 461.00 L988.90 373.00 L988.00 372.00 L988.00 310.00 L987.75 296.00 L986.75 250.00 L986.10 225.00 L986.10 212.50 L984.90 212.50 L984.90 219.40 L981.75 219.40 L981.75 207.50 L981.10 207.50 L981.10 174.00 L979.90 174.00 L979.90 224.00 L978.00 225.00 L978.00 284.00 L977.40 285.00 L977.00 380.00 L976.10 381.00 L976.10 490.00 L974.90 501.00 L974.90 595.00 L974.90 595.00 L973.60 603.13 L972.30 606.64 L971.00 607.48 L969.70 606.79 L968.40 607.52 L967.10 607.62 L965.80 606.15 L964.50 607.01 L963.20 606.91 L961.90 609.24 L960.60 608.32 L959.30 608.95 L958.00 607.97 L956.70 607.72 L955.40 606.48 L954.10 606.88 L952.80 605.52 L951.50 603.95 L950.20 602.41 L948.90 602.58 L947.60 600.93 L946.30 601.35 L945.00 600.63 L943.70 601.64 L942.40 602.51 L941.10 603.59 L939.80 606.40 L938.50 607.82 L937.20 611.44 L935.90 613.32 L934.60 615.46 L933.30 615.48 L932.00 617.70 L930.70 618.41 L929.40 616.73 L928.10 613.70 L926.80 611.96 L925.50 608.14 L924.20 605.31 L922.90 603.78 L921.60 599.09 L920.30 596.79 L919.00 595.08 L917.70 595.20 L916.40 593.33 L915.10 594.79 L913.80 597.43 L912.50 600.09 L911.20 604.03 L909.90 608.06 L908.60 611.23 L907.30 612.93 L906.00 615.82 L904.70 618.45 L903.40 621.09 L902.10 622.23 L900.80 621.32 L899.50 618.54 L898.20 616.67 L896.90 611.09 L895.60 604.94 L894.30 600.60 L893.00 596.47 L891.70 593.13 L890.40 585.85 L889.10 578.62 L887.80 579.77 L886.50 580.93 L885.20 582.37 L883.90 594.19 L882.60 597.96 L881.30 599.21 L880.00 604.31 L878.70 607.77 L877.40 619.16 L876.10 623.97 L874.80 624.02 L873.50 623.86Z" fill="#9400d3" stroke="#9400d3" stroke-width="0.4" stroke-linejoin="round"/>
</g>
<text x="1171" y="90" font-size="16" text-anchor="end">vaneless-from-impeller</text>
<path d="M1181.5 84.3 H1229.5" stroke="#9400d3" stroke-width="3" fill="none"/>
<rect x="114.5" y="67.5" width="1135.0" height="831.0" fill="none" stroke="#000" stroke-width="1"/>
<text x="681.6" y="38" font-size="24" letter-spacing="0.12" text-anchor="middle">Total Pressure</text>
<text x="682.2" y="954" font-size="21.33" letter-spacing="0.1" text-anchor="middle">Iterations [ - ]</text>
<text transform="translate(25.2 482.6) rotate(-90)" font-size="21.33" letter-spacing="0.1" text-anchor="middle">Total Pressure [ Pa ]</text>
</svg></body></html>
